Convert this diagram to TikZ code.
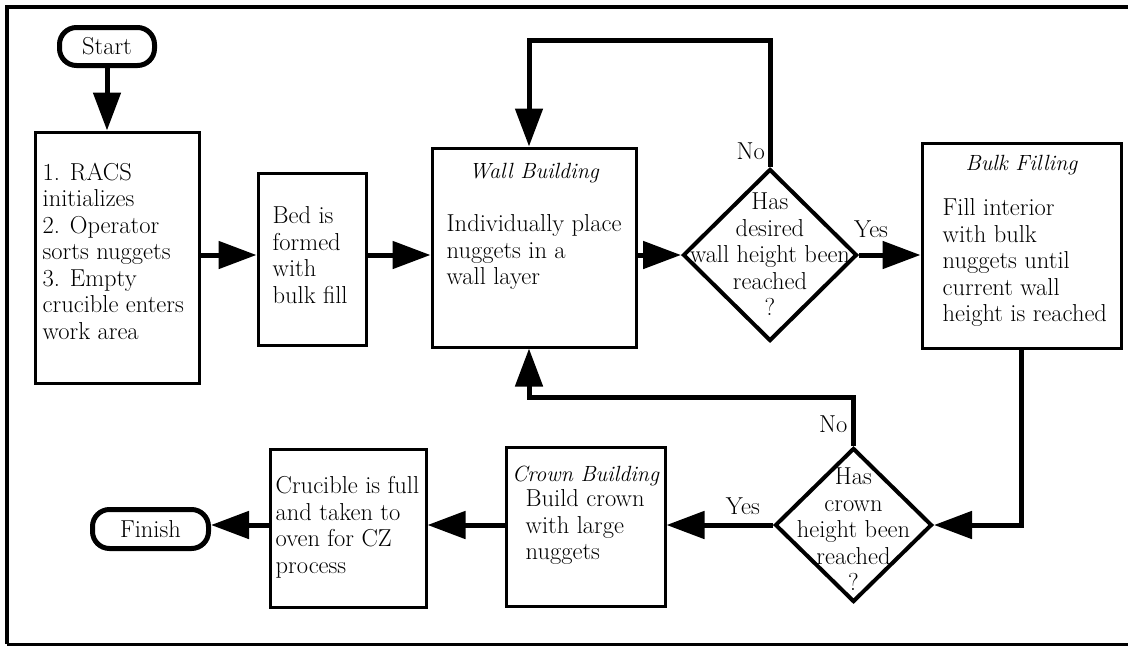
\documentclass[tikz,border=0pt]{standalone}
\usetikzlibrary{positioning,shapes.geometric,arrows.meta}
\begin{document}
\begin{tikzpicture}[x=1pt,y=-1pt,font=\fontsize{24.5}{26.5}\selectfont,
        box/.style={draw,line width=3pt,inner sep=0pt},
        decision/.style={draw,diamond,line width=4pt,inner sep=0pt},
        term/.style={draw,rounded corners=17pt,line width=5pt,inner sep=0pt},
        arr/.style={line width=5pt,-{Triangle[length=38pt,width=27pt]}},
        txt/.style={inner sep=0pt,align=left},
        head/.style={inner sep=0pt,font=\fontsize{22}{26.5}\selectfont\itshape},
        lbl/.style={inner sep=0pt}]
        \useasboundingbox (0,0) rectangle (1128,646);
        \draw[line width=4pt] (1128,7) -- (7,7) -- (7,644);
        \draw[line width=3pt] (7,644) -- (1128,644);
        \node[term,minimum width=95pt,minimum height=38pt] (start) at (107,46.5) {Start};
        \node[box,minimum width=164pt,minimum height=251pt] (init) at (117,257.5) {};
        \node[box,minimum width=108pt,minimum height=172pt] (bed) at (312,259) {};
        \node[box,minimum width=204pt,minimum height=199pt] (wall) at (534,247.5) {};
        \node[decision,minimum width=174pt,minimum height=172pt] (wallq) at (770,255) {};
        \node[box,minimum width=199pt,minimum height=205pt] (bulk) at (1021.5,245.5) {};
        \node[decision,minimum width=157pt,minimum height=154pt] (crownq) at (853.5,525) {};
        \node[box,minimum width=159pt,minimum height=159pt] (crown) at (585.5,526.5) {};
        \node[box,minimum width=156pt,minimum height=158pt] (full) at (348,528) {};
        \node[term,minimum width=116pt,minimum height=39pt] (finish) at (150.5,529) {Finish};
        \node[txt,below right=32pt and 9pt of init.north west] (initt) {1. RACS\\initializes\\2. Operator\\sorts nuggets\\3. Empty\\crucible enters\\work area};
        \node[txt,below right=35pt and 16pt of bed.north west] (bedt) {Bed is\\formed\\with\\bulk fill};
        \node[head,below=17pt of wall.north] (wallh) {Wall Building};
        \node[txt,below right=68pt and 16pt of wall.north west] (wallt) {Individually place\\nuggets in a\\wall layer};
        \node[txt,align=center] (wallqt) at (770,254.5) {Has\\desired\\wall height been\\reached\\?};
        \node[head,below=14pt of bulk.north] (bulkh) {Bulk Filling};
        \node[txt,below right=57pt and 22pt of bulk.north west] (bulkt) {Fill interior\\with bulk\\nuggets until\\current wall\\height is reached};
        \node[txt,align=center] (crownqt) at (853.5,529.5) {Has\\crown\\height been\\reached\\?};
        \node[head,below=20pt of crown.north] (crownh) {Crown Building};
        \node[txt,below right=44pt and 21pt of crown.north west] (crownt) {Build crown\\with large\\nuggets};
        \node[txt,below right=29pt and 7pt of full.north west] (fullt) {Crucible is full\\and taken to\\oven for CZ\\process};
        \node[lbl,above left=7pt and 5pt of wallq.north] (no1) {No};
        \node[lbl,above right=17pt and -5pt of wallq.east] (yes1) {Yes};
        \node[lbl,above left=13pt and 6pt of crownq.north] (no2) {No};
        \node[lbl,above left=10pt and 13pt of crownq.west] (yes2) {Yes};
        \coordinate (loopa) at (529,40);
        \coordinate (loopb) at (529,397);
        \draw[arr] (start.south) -- (start.south |- init.north);
        \draw[arr] (init.east |- wallq) -- (bed.west |- wallq);
        \draw[arr] (bed.east |- wallq) -- (wall.west |- wallq);
        \draw[arr] (wall.east |- wallq) -- (wallq.west);
        \draw[arr] (wallq.east) -- (bulk.west |- wallq);
        \draw[arr] (wallq.north) |- (loopa) -- (loopa |- wall.north);
        \draw[arr] (bulk.south) |- (crownq.east);
        \draw[arr] (crownq.north) |- (loopb) -- (loopb |- wall.south);
        \draw[arr] (crownq.west) -- (crown.east |- crownq);
        \draw[arr] (crown.west |- crownq) -- (full.east |- crownq);
        \draw[arr] (full.west |- crownq) -- (finish.east |- crownq);
        \end{tikzpicture}
\end{document}
